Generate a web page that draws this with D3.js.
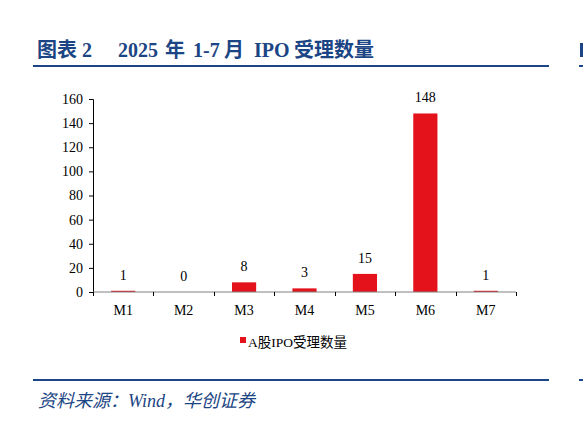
<!DOCTYPE html>
<html>
<head>
<meta charset="utf-8">
<script src="https://cdn.jsdelivr.net/npm/d3@7"></script>
<style>
  body { margin: 0; background: #fff; }
  svg text { font-family: "Liberation Serif", "Noto Sans CJK SC", serif; }
</style>
</head>
<body>
<script>
// Chart data
const months = ["M1", "M2", "M3", "M4", "M5", "M6", "M7"];
const ipoCounts = [1, 0, 8, 3, 15, 148, 1];
const yTicks = [0, 20, 40, 60, 80, 100, 120, 140, 160];
const seriesName = "A股IPO受理数量";

const W = 583, H = 421;
const blue = "#1b4584", red = "#e3121b";

const svg = d3.select("body").append("svg")
  .attr("width", W)
  .attr("height", H);

// Title, placed piece by piece to keep the spacing of the original
const titleParts = [
  { t: "图表", x: 37 },
  { t: "2", x: 82 },
  { t: "2025", x: 118 },
  { t: "年", x: 165 },
  { t: "1-7", x: 193 },
  { t: "月", x: 224 },
  { t: "IPO", x: 254 },
  { t: "受理数量", x: 294 }
];
const title = svg.append("text")
  .attr("y", 57)
  .attr("fill", blue)
  .style("font-size", "20px")
  .style("font-weight", "bold");
titleParts.forEach((p) => {
  title.append("tspan").attr("x", p.x).text(p.t);
});

svg.append("line")
  .attr("x1", 33).attr("x2", 549)
  .attr("y1", 66).attr("y2", 66)
  .attr("stroke", blue).attr("stroke-width", 2);

// bit of the neighbouring panel at the right edge
svg.append("line")
  .attr("x1", 579).attr("x2", W)
  .attr("y1", 66).attr("y2", 66)
  .attr("stroke", blue).attr("stroke-width", 2);
svg.append("rect")
  .attr("x", 580).attr("y", 43).attr("width", 3).attr("height", 14)
  .attr("fill", blue);

// Plot
const x = d3.scaleBand()
  .domain(months)
  .range([93, 516])
  .paddingInner(0.6)
  .paddingOuter(0.3);

const y = d3.scaleLinear()
  .domain([0, 160])
  .range([292, 99]);

const g = svg.append("g");

g.selectAll(".bar")
  .data(months)
  .enter()
  .append("rect")
  .attr("class", "bar")
  .attr("x", (d) => x(d))
  .attr("y", (d, i) => y(ipoCounts[i]))
  .attr("width", x.bandwidth())
  .attr("height", (d, i) => y(0) - y(ipoCounts[i]))
  .attr("fill", red);

g.selectAll(".val")
  .data(months)
  .enter()
  .append("text")
  .attr("x", (d) => x(d) + x.bandwidth() / 2)
  .attr("y", (d, i) => y(ipoCounts[i]) - 11)
  .attr("text-anchor", "middle")
  .style("font-size", "14px")
  .attr("fill", "#000")
  .text((d, i) => ipoCounts[i]);

// y axis
const yAxis = g.append("g")
  .attr("transform", "translate(93,0)")
  .call(d3.axisLeft(y).tickValues(yTicks).tickSize(4).tickPadding(6));
yAxis.attr("font-family", null);
yAxis.select(".domain").attr("stroke", "#000");
yAxis.selectAll("text")
  .style("font-size", "14px")
  .attr("fill", "#000");

// x axis: ticks on category boundaries
const xAxisG = g.append("g").attr("transform", "translate(0,292)");
xAxisG.append("line")
  .attr("x1", 93).attr("x2", 516)
  .attr("stroke", "#808080").attr("stroke-width", 1);
const bounds = d3.range(months.length + 1).map((i) => 93 + i * x.step());
xAxisG.selectAll(".tk")
  .data(bounds)
  .enter()
  .append("line")
  .attr("x1", (d) => Math.round(d) + 0.5).attr("x2", (d) => Math.round(d) + 0.5)
  .attr("y1", 0).attr("y2", 4)
  .attr("stroke", "#000");
xAxisG.selectAll(".lbl")
  .data(months)
  .enter()
  .append("text")
  .attr("x", (d) => x(d) + x.bandwidth() / 2)
  .attr("y", 23)
  .attr("text-anchor", "middle")
  .style("font-size", "14px")
  .text((d) => d);

// Legend
const leg = svg.append("g").attr("transform", "translate(240,342)");
leg.append("rect")
  .attr("x", 0).attr("y", -5)
  .attr("width", 6).attr("height", 6)
  .attr("fill", red);
leg.append("text")
  .attr("x", 8).attr("y", 5)
  .style("font-size", "13.5px")
  .text(seriesName);

// bottom rule + source
svg.append("line")
  .attr("x1", 33).attr("x2", 549)
  .attr("y1", 380).attr("y2", 380)
  .attr("stroke", blue).attr("stroke-width", 2);
svg.append("line")
  .attr("x1", 579).attr("x2", W)
  .attr("y1", 380).attr("y2", 380)
  .attr("stroke", blue).attr("stroke-width", 2);

svg.append("text")
  .attr("x", 38)
  .attr("y", 407)
  .attr("fill", blue)
  .style("font-size", "18px")
  .style("font-style", "italic")
  .text("资料来源：Wind，华创证券");
</script>
</body>
</html>
